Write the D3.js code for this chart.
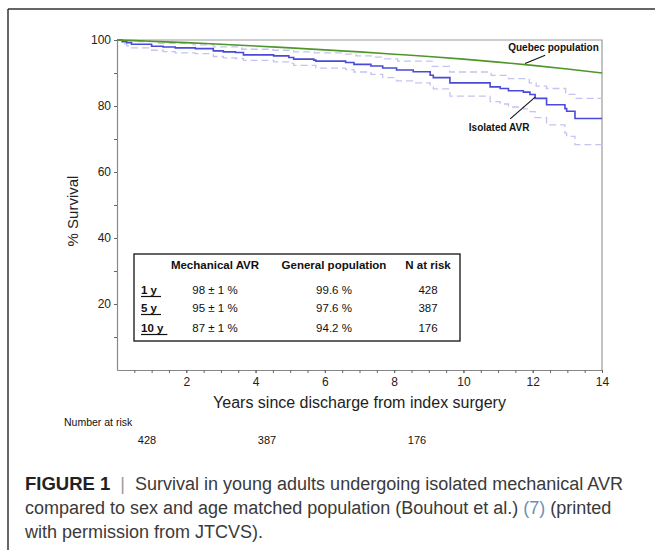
<!DOCTYPE html>
<html>
<head>
<meta charset="utf-8">
<script src="https://cdn.jsdelivr.net/npm/d3@7"></script>
<style>
  html, body { margin: 0; padding: 0; background: #fff; }
  svg { display: block; }
</style>
</head>
<body>
<svg id="chart" width="655" height="550"></svg>
<script>
// ---------- data ----------
const kmTimes = [0, 0.15, 0.28, 0.42, 1.0, 1.33, 1.68, 2.26, 2.78, 3.07, 3.42, 3.65, 4.52, 4.96, 5.1, 5.68, 5.74, 6.6, 6.84, 7.33, 7.67, 8.07, 8.55, 9.04, 9.13, 9.61, 10.77, 11.06, 11.30, 11.73, 11.92, 12.07, 12.40, 12.93, 12.98, 13.22, 14];
const kmSurv  = [100, 99.5, 99.2, 98.7, 98.1, 97.9, 97.6, 97.4, 96.7, 96.4, 96.2, 95.5, 95.2, 94.7, 94.2, 93.9, 93.6, 93.2, 92.6, 92.1, 91.5, 90.9, 90.4, 89.3, 88.6, 87.0, 85.8, 85.3, 84.6, 84.2, 83.5, 82.3, 80.4, 79.2, 78.4, 76.2, 76.2];

const upperTimes = [0, 0.5, 1.2, 2.2, 2.8, 3.6, 4.5, 5.1, 5.7, 6.5, 6.9, 7.4, 7.7, 8.1, 9.1, 9.6, 10.8, 11.3, 11.9, 12.1, 12.4, 12.95, 13.22, 14];
const upperSurv  = [100, 99.5, 99.0, 98.5, 97.9, 97.2, 96.9, 96.4, 96.1, 95.7, 95.2, 94.8, 94.3, 93.6, 92.0, 90.3, 89.3, 88.3, 87.0, 86.0, 85.3, 83.5, 82.3, 82.3];

const lowerTimes = [0, 0.15, 0.28, 0.42, 1.0, 1.33, 1.68, 2.26, 2.78, 3.07, 3.42, 3.65, 4.52, 4.96, 5.1, 5.74, 6.6, 6.84, 7.33, 7.67, 8.07, 8.55, 9.04, 9.13, 9.61, 10.77, 11.06, 11.30, 11.73, 11.92, 12.07, 12.40, 12.93, 12.98, 13.22, 14];
const lowerSurv  = [100, 98.8, 98.2, 97.6, 96.9, 96.5, 96.1, 95.9, 95.0, 94.6, 94.4, 93.8, 93.4, 92.9, 92.3, 91.5, 91.0, 90.3, 89.6, 88.6, 87.6, 87.0, 85.8, 85.2, 83.0, 81.3, 80.6, 79.7, 79.1, 78.3, 76.5, 74.3, 71.8, 70.8, 68.3, 68.3];

const popTimes = [0, 1, 2, 3, 4, 5, 6, 7, 8, 9, 10, 11, 12, 13, 14];
const popSurv  = [100, 99.6, 99.2, 98.7, 98.2, 97.6, 97.0, 96.4, 95.7, 95.0, 94.2, 93.3, 92.3, 91.2, 90.0];

const xTickValues = [2, 4, 6, 8, 10, 12, 14];
const yTickValues = [20, 40, 60, 80, 100];

const tableHeaders = ["Mechanical AVR", "General population", "N at risk"];
const tableRowLabels = ["1 y", "5 y", "10 y"];
const mechVals = ["98 ± 1 %", "95 ± 1 %", "87 ± 1 %"];
const genVals = ["99.6 %", "97.6 %", "94.2 %"];
const riskVals = ["428", "387", "176"];
const riskYears = [1, 5, 10];

// ---------- layout ----------
const svg = d3.select("#chart");
const L = 117, R = 602, T = 40, B = 370;
const x = d3.scaleLinear().domain([0, 14]).range([L, R]);
const y = d3.scaleLinear().domain([0, 100]).range([B, T]);
// the number-at-risk row in the source figure is printed on a slightly compressed time scale
const xRisk = d3.scaleLinear().domain([0, 14]).range([L, L + 0.866 * (R - L)]);
const font = "'Liberation Sans', Arial, Helvetica, sans-serif";

// figure frame
svg.append("line").attr("x1", 8).attr("x2", 655).attr("y1", 9).attr("y2", 9)
  .attr("stroke", "#333").attr("stroke-width", 1.5);
svg.append("line").attr("x1", 8).attr("x2", 8).attr("y1", 9).attr("y2", 550)
  .attr("stroke", "#333").attr("stroke-width", 1.5);

// plot frame (top/right)
svg.append("path").attr("d", `M${L},${T}H${R}V${B}`)
  .attr("fill", "none").attr("stroke", "#999").attr("stroke-width", 1.2);

// axes
const xAxis = d3.axisBottom(x).tickValues(xTickValues).tickSize(3).tickPadding(4).tickSizeOuter(0);
svg.append("g").attr("transform", `translate(0,${B})`).call(xAxis);
const xMinor = d3.axisBottom(x).tickValues(d3.range(0.5, 14.01, 0.5)).tickSize(3).tickFormat("").tickSizeOuter(0);
svg.append("g").attr("transform", `translate(0,${B})`).call(xMinor).select(".domain").remove();

const yAxis = d3.axisLeft(y).tickValues(yTickValues).tickSize(3).tickPadding(3).tickSizeOuter(0);
svg.append("g").attr("transform", `translate(${L},0)`).call(yAxis);
const yMinor = d3.axisLeft(y).tickValues(d3.range(10, 100, 10)).tickSize(3).tickFormat("").tickSizeOuter(0);
svg.append("g").attr("transform", `translate(${L},0)`).call(yMinor).select(".domain").remove();

svg.selectAll(".domain").attr("stroke", "#888").attr("stroke-width", 1.2);
svg.selectAll(".tick line").attr("stroke", "#666");
svg.selectAll(".tick text").attr("font-family", font).attr("font-size", 12).attr("fill", "#222");

// axis titles
svg.append("text").attr("x", (L + R) / 2).attr("y", 408).attr("text-anchor", "middle")
  .attr("font-family", font).attr("font-size", 16).attr("fill", "#222")
  .text("Years since discharge from index surgery");
svg.append("text").attr("transform", `translate(78,${(T + B) / 2 + 6}) rotate(-90)`)
  .attr("text-anchor", "middle").attr("font-family", font).attr("font-size", 15).attr("fill", "#222")
  .text("% Survival");

// curves
const stepLine = d3.line().x(d => x(d[0])).y(d => y(d[1])).curve(d3.curveStepAfter);
const smoothLine = d3.line().x(d => x(d[0])).y(d => y(d[1])).curve(d3.curveMonotoneX);

svg.append("path").datum(d3.zip(upperTimes, upperSurv)).attr("d", stepLine)
  .attr("fill", "none").attr("stroke", "#c4c4f2").attr("stroke-width", 1.3).attr("stroke-dasharray", "7,4");
svg.append("path").datum(d3.zip(lowerTimes, lowerSurv)).attr("d", stepLine)
  .attr("fill", "none").attr("stroke", "#c4c4f2").attr("stroke-width", 1.3).attr("stroke-dasharray", "7,4");
svg.append("path").datum(d3.zip(kmTimes, kmSurv)).attr("d", stepLine)
  .attr("fill", "none").attr("stroke", "#4a4ad8").attr("stroke-width", 1.6);
svg.append("path").datum(d3.zip(popTimes, popSurv)).attr("d", smoothLine)
  .attr("fill", "none").attr("stroke", "#4f9628").attr("stroke-width", 1.6);

// annotations
svg.append("line").attr("x1", x(11.78)).attr("y1", y(92.9)).attr("x2", x(12.36)).attr("y2", y(95.4))
  .attr("stroke", "#111").attr("stroke-width", 1.1);
svg.append("text").attr("x", x(12.6)).attr("y", y(96.7)).attr("text-anchor", "middle")
  .attr("font-family", font).attr("font-size", 10).attr("font-weight", "bold").attr("fill", "#111")
  .text("Quebec population");
svg.append("line").attr("x1", x(11.35)).attr("y1", y(76.1)).attr("x2", x(12.07)).attr("y2", y(82.7))
  .attr("stroke", "#111").attr("stroke-width", 1.1);
svg.append("text").attr("x", x(11.03)).attr("y", y(72.3)).attr("text-anchor", "middle")
  .attr("font-family", font).attr("font-size", 10).attr("font-weight", "bold").attr("fill", "#111")
  .text("Isolated AVR");

// inset table
const tb = { x0: 134, x1: 460, y0: 254, y1: 341 };
svg.append("rect").attr("x", tb.x0).attr("y", tb.y0).attr("width", tb.x1 - tb.x0).attr("height", tb.y1 - tb.y0)
  .attr("fill", "#fff").attr("stroke", "#222").attr("stroke-width", 1.4);
const colCenters = [215, 334, 428];
svg.selectAll(".th").data(tableHeaders).join("text")
  .attr("x", (d, i) => colCenters[i]).attr("y", 269).attr("text-anchor", "middle")
  .attr("font-family", font).attr("font-size", 11.5).attr("font-weight", "bold").attr("fill", "#111")
  .text(d => d);
const rowY = [294, 312, 332];
tableRowLabels.forEach((lab, i) => {
  const t = svg.append("text").attr("x", 141).attr("y", rowY[i])
    .attr("font-family", font).attr("font-size", 11.5).attr("font-weight", "bold").attr("fill", "#111")
    .text(lab);
  const w = t.node().getComputedTextLength();
  svg.append("line").attr("x1", 141).attr("x2", 141 + w + 4).attr("y1", rowY[i] + 2.5).attr("y2", rowY[i] + 2.5)
    .attr("stroke", "#111").attr("stroke-width", 1.2);
  [mechVals[i], genVals[i], riskVals[i]].forEach((v, j) => {
    svg.append("text").attr("x", colCenters[j]).attr("y", rowY[i]).attr("text-anchor", "middle")
      .attr("font-family", font).attr("font-size", 11.5).attr("fill", "#111").text(v);
  });
});

// number at risk
svg.append("text").attr("x", 64).attr("y", 426)
  .attr("font-family", font).attr("font-size", 10.5).attr("fill", "#111").text("Number at risk");
svg.selectAll(".risk").data(riskVals).join("text")
  .attr("x", (d, i) => xRisk(riskYears[i])).attr("y", 444).attr("text-anchor", "middle")
  .attr("font-family", font).attr("font-size", 11).attr("fill", "#111").text(d => d);

// caption
const cap = svg.append("g").attr("font-family", font).attr("font-size", 18).attr("fill", "#3a3a3a");
const l1 = cap.append("text").attr("x", 25).attr("y", 490);
l1.append("tspan").attr("font-weight", "bold").attr("fill", "#222").attr("font-size", 18.5).text("FIGURE 1");
l1.append("tspan").attr("fill", "#999").attr("dx", 10).text("|");
l1.append("tspan").attr("dx", 10).text("Survival in young adults undergoing isolated mechanical AVR");
const l2 = cap.append("text").attr("x", 25).attr("y", 514);
l2.append("tspan").text("compared to sex and age matched population (Bouhout et al.) ");
l2.append("tspan").attr("fill", "#6d8fb5").text("(7)");
l2.append("tspan").text(" (printed");
cap.append("text").attr("x", 25).attr("y", 538).text("with permission from JTCVS).");
</script>
</body>
</html>
